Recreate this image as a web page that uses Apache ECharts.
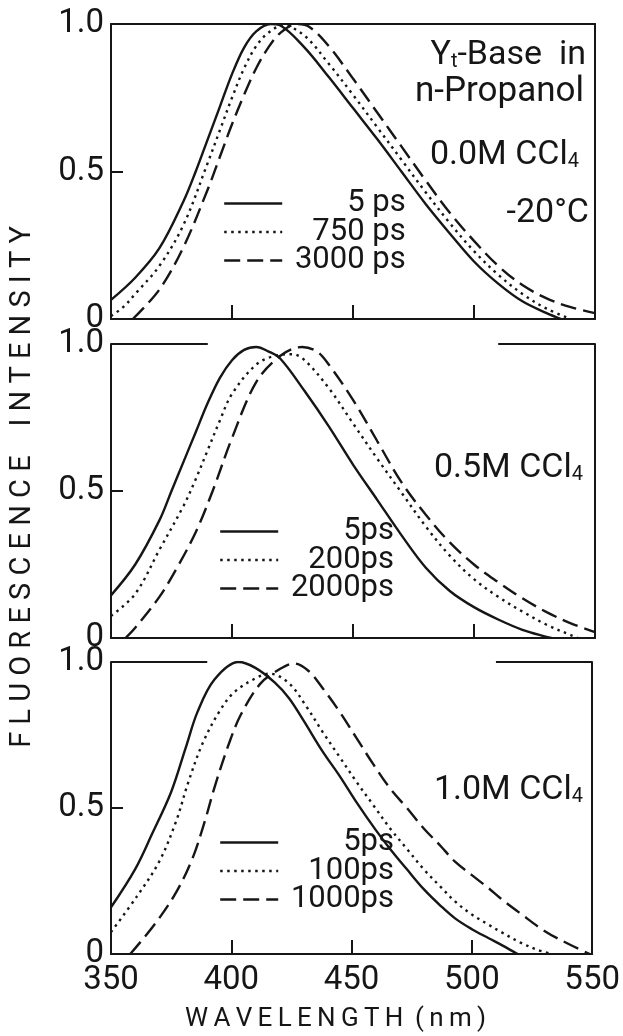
<!DOCTYPE html>
<html>
<head>
<meta charset="utf-8">
<script src="https://cdn.jsdelivr.net/npm/echarts@6/dist/echarts.min.js"></script>
<style>
html, body { margin: 0; padding: 0; background: #fff; }
#chart { width: 623px; height: 1036px; }
</style>
</head>
<body>
<div id="chart"></div>
<script>
// axis ticks
const xTicks = [350, 400, 450, 500, 550]
const yTicks = [0, 0.5, 1]
const yTickLabels = ["0", "0.5", "1.0"]

// legend names per panel (solid, dotted, dashed)
const names0 = ["5 ps", "750 ps", "3000 ps"]
const names1 = ["5ps", "200ps", "2000ps"]
const names2 = ["5ps", "100ps", "1000ps"]

// 0.0 M CCl4  [wavelength nm, intensity]
const p0Solid = [[350,0.065],[360,0.14],[370,0.24],[380,0.40],[385,0.50],[390,0.61],[395,0.72],[400,0.83],[405,0.92],[410,0.975],[416,1.0],[420,0.995],[430,0.92],[440,0.82],[450,0.715],[460,0.61],[470,0.50],[480,0.39],[490,0.29],[500,0.195],[510,0.12],[520,0.06],[530,0.02],[536,0]]
const p0Dotted = [[350,0.01],[355,0.04],[360,0.085],[370,0.18],[380,0.32],[390,0.53],[395,0.64],[400,0.75],[405,0.85],[410,0.925],[415,0.97],[421,0.995],[430,0.96],[440,0.865],[450,0.76],[460,0.65],[470,0.54],[480,0.43],[490,0.325],[500,0.23],[510,0.15],[520,0.085],[530,0.035],[540,0]]
const p0Dashed = [[359,0],[370,0.10],[380,0.245],[390,0.44],[395,0.55],[400,0.66],[405,0.76],[410,0.85],[415,0.92],[420,0.97],[427,1.0],[432,0.99],[440,0.925],[450,0.815],[460,0.70],[470,0.585],[480,0.47],[490,0.36],[500,0.265],[510,0.18],[520,0.115],[530,0.07],[540,0.04],[550,0.02]]

// 0.5 M CCl4
const p1Solid = [[350,0.145],[360,0.25],[370,0.40],[375,0.50],[380,0.60],[385,0.70],[390,0.80],[395,0.885],[400,0.945],[405,0.98],[410,0.99],[415,0.975],[420,0.95],[430,0.84],[440,0.72],[450,0.59],[460,0.47],[470,0.35],[480,0.24],[490,0.16],[500,0.105],[510,0.063],[520,0.028],[530,0.004],[532,0]]
const p1Dotted = [[350,0.075],[360,0.15],[370,0.30],[380,0.45],[385,0.54],[390,0.64],[395,0.74],[400,0.83],[410,0.93],[418,0.96],[425,0.965],[430,0.945],[440,0.85],[450,0.73],[460,0.61],[470,0.495],[480,0.38],[490,0.28],[500,0.20],[510,0.14],[520,0.09],[530,0.045],[540,0.01],[543,0]]
const p1Dashed = [[356,0],[360,0.035],[370,0.14],[377,0.235],[385,0.36],[392,0.50],[400,0.68],[410,0.87],[420,0.96],[429,0.99],[435,0.975],[440,0.93],[450,0.81],[460,0.67],[470,0.53],[480,0.42],[490,0.325],[500,0.25],[510,0.19],[520,0.135],[530,0.088],[540,0.05],[550,0.02]]

// 1.0 M CCl4
const p2Solid = [[350,0.16],[360,0.29],[367,0.41],[375,0.555],[381,0.705],[386,0.83],[393,0.94],[403,1.0],[410,0.98],[418,0.93],[424,0.876],[430,0.80],[438,0.693],[445,0.61],[452,0.52],[460,0.425],[466,0.36],[473,0.29],[480,0.222],[487,0.165],[493,0.122],[500,0.085],[507,0.054],[513,0.028],[519,0]]
const p2Dotted = [[350,0.075],[361,0.20],[370,0.316],[377,0.453],[382,0.585],[388,0.72],[395,0.83],[401,0.895],[410,0.944],[416,0.96],[424,0.927],[431,0.85],[438,0.76],[445,0.675],[452,0.59],[459,0.51],[466,0.43],[473,0.36],[480,0.29],[487,0.23],[493,0.18],[500,0.135],[507,0.10],[512,0.076],[520,0.04],[527,0.015],[533,0]]
const p2Dashed = [[358,0],[368,0.10],[377,0.21],[384,0.33],[389,0.455],[393,0.57],[399,0.72],[404,0.82],[412,0.925],[420,0.975],[426,0.995],[432,0.97],[438,0.91],[445,0.83],[452,0.74],[459,0.65],[466,0.567],[473,0.50],[480,0.43],[487,0.37],[493,0.316],[500,0.27],[507,0.225],[512,0.19],[520,0.14],[530,0.08],[540,0.035],[549,0]]

// pieces of the top frame that are drawn on the lower two panels
const topFrameSegments = [[350, 390], [510, 550]]

const ink = "#161616"
const font = "Roboto"

const panels = [
  { names: names0, data: [p0Solid, p0Dotted, p0Dashed], top: 24, height: 295, legendTop: 183, legendLeft: 218 },
  { names: names1, data: [p1Solid, p1Dotted, p1Dashed], top: 344, height: 294, legendTop: 511, legendLeft: 214 },
  { names: names2, data: [p2Solid, p2Dotted, p2Dashed], top: 662, height: 292, legendTop: 822, legendLeft: 214 },
]
const lineTypes = ["solid", [2.5, 4.5], [16, 7]]

const chart = echarts.init(document.getElementById("chart"))

const grid = []
const xAxis = []
const yAxis = []
const series = []
const legend = []

const spaced = s => s.split("").join("\u2009")

panels.forEach((p, i) => {
  grid.push({ left: 111, right: 28, top: p.top, height: p.height })
  xAxis.push({
    gridIndex: i, type: "value", min: 350, max: 550, interval: 50, position: "bottom",
    axisLine: { onZero: false, lineStyle: { color: ink, width: 2 } },
    axisTick: { inside: true, length: 14, lineStyle: { color: ink, width: 2 } },
    axisLabel: { show: i === 2, fontSize: 33, fontFamily: font, color: ink, margin: 10,
      formatter: v => (xTicks.includes(v) ? String(v) : "") },
    splitLine: { show: false },
    name: i === 2 ? spaced("WAVELENGTH") + " \u2009" + spaced("(nm)") : "",
    nameLocation: "middle", nameGap: 52,
    nameTextStyle: { fontSize: 26, fontFamily: font, color: ink, padding: [0, 32, 0, 0] },
  })
  xAxis.push({
    gridIndex: i, type: "value", min: 350, max: 550, position: "top",
    axisLine: { show: i === 0, onZero: false, lineStyle: { color: ink, width: 2 } },
    axisTick: { show: false }, axisLabel: { show: false }, splitLine: { show: false },
  })
  yAxis.push({
    gridIndex: i, type: "value", min: 0, max: 1, interval: 0.5, position: "left",
    axisLine: { show: true, onZero: false, lineStyle: { color: ink, width: 2 } },
    axisTick: { show: true, inside: true, length: 12, lineStyle: { color: ink, width: 2 } },
    axisLabel: { fontSize: 33, fontFamily: font, color: ink, margin: 7,
      formatter: v => yTickLabels[yTicks.indexOf(v)] },
    splitLine: { show: false },
    name: i === 1 ? "F L U O R E S C E N C E    I N T E N S I T Y" : "",
    nameLocation: "middle", nameRotate: 90, nameGap: 74,
    nameTextStyle: { fontSize: 29, fontFamily: font, color: ink, padding: [0, 0, 0, 8] },
  })
  yAxis.push({
    gridIndex: i, type: "value", min: 0, max: 1, position: "right",
    axisLine: { show: true, onZero: false, lineStyle: { color: ink, width: 2 } },
    axisTick: { show: false }, axisLabel: { show: false }, splitLine: { show: false },
  })

  p.data.forEach((d, k) => {
    const s = {
      name: p.names[k], type: "line", xAxisIndex: i * 2, yAxisIndex: i * 2,
      data: d, symbol: "none", showSymbol: false, smooth: 0.35,
      lineStyle: { color: ink, width: 2.4, type: lineTypes[k] },
      itemStyle: { color: ink }, z: 3,
    }
    if (i > 0 && k === 0) {
      s.markLine = {
        silent: true, symbol: ["none", "none"], label: { show: false },
        lineStyle: { color: ink, width: 2, type: "solid" },
        data: topFrameSegments.map(seg => [{ coord: [seg[0], 1] }, { coord: [seg[1], 1] }]),
      }
    }
    series.push(s)
  })

  const maxLen = Math.max(...p.names.map(n => n.length))
  legend.push({
    data: p.names, orient: "vertical", left: p.legendLeft, top: p.legendTop,
    itemWidth: 58, itemHeight: 28, itemGap: -2.5, selectedMode: false,
    itemStyle: { opacity: 0 },
    lineStyle: { width: 2.4 },
    textStyle: { fontSize: 31, fontFamily: font, color: ink, lineHeight: 28 },
    formatter: n => " " + "\u2007".repeat(maxLen - n.length) + n,
  })
})

const txt = (text, right, top, size) => ({
  type: "text", right, top, silent: true,
  style: {
    text, fill: ink, font: size + "px " + font, textAlign: "right",
    rich: {
      a: { fontSize: size, fontFamily: font, fill: ink, lineHeight: 36 },
      s: { fontSize: 20, fontFamily: font, fill: ink, lineHeight: 36, padding: [14, 0, 0, 0] },
    },
  },
})

const option = {
  backgroundColor: "#fff",
  animation: false,
  grid, xAxis, yAxis, series, legend,
  graphic: [
    txt("{a|Y}{s|t}{a|-Base  in}", 37, 38, 34),
    txt("{a|n-Propanol}", 39, 75, 35),
    txt("{a|0.0M CCl}{s|4}", 44, 138, 34),
    txt("{a|-20°C}", 34, 196, 34),
    txt("{a|0.5M CCl}{s|4}", 40, 451, 34),
    txt("{a|1.0M CCl}{s|4}", 40, 773, 34),
  ],
}

chart.setOption(option)
</script>
</body>
</html>
